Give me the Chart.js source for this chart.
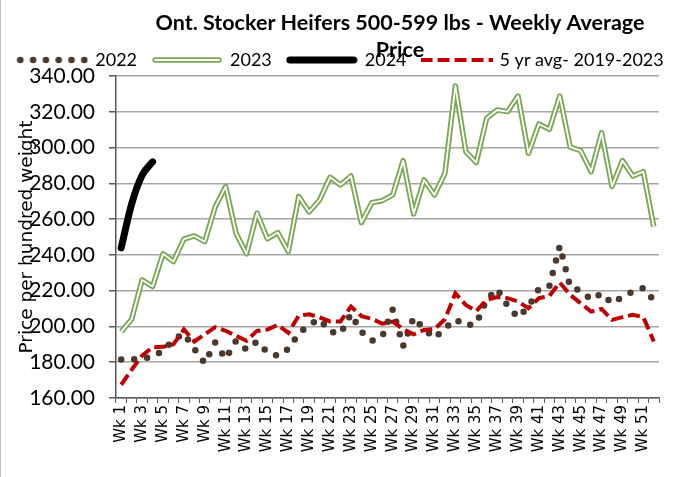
<!DOCTYPE html>
<html>
<head>
<meta charset="utf-8">
<script src="https://cdn.jsdelivr.net/npm/chart.js@4.4.1/dist/chart.umd.min.js"></script>
<style>
  html, body { margin: 0; padding: 0; background: #fff; overflow: hidden; }
  #wrap { position: relative; width: 682px; height: 477px; }
  #edge { position: absolute; left: 0; top: 0; height: 477px; border-left: 1px solid #c0c0c0; }
</style>
</head>
<body>
<div id="wrap">
  <canvas id="heiferChart" width="682" height="477"></canvas>
  <div id="edge"></div>
</div>
<script>
// categories
const weeks = Array.from({ length: 52 }, (_, i) => 'Wk ' + (i + 1));
const yTicks = [160, 180, 200, 220, 240, 260, 280, 300, 320, 340];

// weekly averages, $/cwt
const avg2022 = [181.5, 181.5, 182, 183, 186.5, 192.5, 196, 187.5, 179.5, 191,
                 182, 192, 187, 191.5, 185.5, 183.5, 187.5, 196, 201, 204,
                 197, 196, 207, 197, 192, 194.5, 209.5, 189, 205, 198.5,
                 193.5, 199, 204, 200.5, 201.5, 215, 221, 211.5, 205, 211,
                 221, 222.5, 245, 222, 220, 215, 218.5, 213, 216.5, 219.5,
                 221.5, 214.5];
const avg2023 = [197, 204, 226, 222.3, 240.6, 236.3, 248.8, 250.6, 247.4, 266.8,
                 278.2, 252, 240.6, 263.3, 249, 252.5, 241.8, 272.6, 264, 270.7,
                 283.4, 279.1, 284.1, 258, 269.2, 270.3, 273.5, 292.7, 262.9, 281.9,
                 273.5, 285.6, 334.4, 297.7, 291.6, 316.4, 321, 320.1, 328.8, 296.8,
                 313.2, 310.2, 328.8, 300.2, 298.3, 286.5, 308.3, 278.2, 292.7, 284.1,
                 286.5, 255.8];
const avg2024 = [244, 268.5, 284.5, 292];
const avg5yr = [167.4, 175.8, 183.7, 188.4, 188.6, 190, 198.3, 191.6, 195.6, 199.6,
                197.6, 194.8, 192, 197.5, 198.3, 200.9, 196.4, 206, 206.8, 205,
                202.8, 202.8, 211.1, 205.8, 204.3, 201.5, 202.7, 198.5, 195.6, 198,
                198.5, 204, 218.6, 212, 208.6, 214.9, 216.4, 215.8, 213.9, 210.2,
                215.8, 217, 224.5, 217.6, 213, 208.3, 209.8, 203.7, 205.2, 206.5,
                205.2, 191.6];

const seriesNames = ['2022', '2023', '2024', '5 yr avg- 2019-2023'];
const titleLines = ['Ont. Stocker Heifers 500-599 lbs - Weekly Average', 'Price'];

const brown = '#4b392e';
const green = '#7aa854';
const red = '#c00000';

// little pictures for the legend keys
function swatch(draw) {
    const c = document.createElement('canvas');
    c.width = 72;
    c.height = 14;
    draw(c.getContext('2d'));
    return c;
}
function stroke(g, x1, x2) {
    g.beginPath();
    g.moveTo(x1, 7);
    g.lineTo(x2, 7);
    g.stroke();
}
const swatches = [
    swatch(g => {
        g.fillStyle = brown;
        for (let i = 0; i < 6; i++) {
            g.beginPath();
            g.arc(4 + i * 12.8, 7, 3.3, 0, Math.PI * 2);
            g.fill();
        }
    }),
    swatch(g => {
        g.lineCap = 'round';
        g.strokeStyle = green; g.lineWidth = 5.5; stroke(g, 4, 68);
        g.strokeStyle = '#fff'; g.lineWidth = 2; stroke(g, 4, 68);
    }),
    swatch(g => {
        g.lineCap = 'round';
        g.strokeStyle = '#000'; g.lineWidth = 7; stroke(g, 4, 68);
    }),
    swatch(g => {
        g.strokeStyle = red; g.lineWidth = 4; g.setLineDash([12, 5]); stroke(g, 0, 72);
    })
];

// title is allowed to run into the legend, like the original
const titlePlugin = {
    id: 'twoLineTitle',
    afterLayout(chart) {
        // legend row sits a little lower than Chart.js would put it
        chart.legend.top += 3;
        chart.legend.bottom += 3;
    },
    afterDraw(chart) {
        const ctx = chart.ctx;
        ctx.save();
        ctx.font = 'bold 21.5px Lato';
        ctx.fillStyle = '#000';
        ctx.textAlign = 'center';
        ctx.textBaseline = 'middle';
        ctx.fillText(titleLines[0], 400, 23);
        ctx.fillText(titleLines[1], 400, 50);
        ctx.restore();
    }
};

Chart.defaults.font.family = 'Lato';
Chart.defaults.color = '#000';

new Chart(document.getElementById('heiferChart'), {
    type: 'line',
    data: {
        labels: weeks,
        datasets: [
            {
                label: seriesNames[0],
                data: avg2022,
                borderColor: brown,
                borderWidth: 6.5,
                borderDash: [0, 13],
                borderCapStyle: 'round',
                pointRadius: 0,
                order: 2
            },
            {
                label: seriesNames[1],
                data: avg2023,
                borderColor: green,
                borderWidth: 5.5,
                borderJoinStyle: 'round',
                pointRadius: 0,
                order: 4
            },
            {
                label: seriesNames[2],
                data: avg2024,
                borderColor: '#000',
                borderWidth: 7,
                borderCapStyle: 'round',
                cubicInterpolationMode: 'monotone',
                pointRadius: 0,
                order: 0
            },
            {
                label: seriesNames[3],
                data: avg5yr,
                borderColor: red,
                borderWidth: 4,
                borderDash: [12, 5],
                pointRadius: 0,
                order: 1
            },
            {
                // white core of the 2023 double line
                label: '2023 inner',
                data: avg2023,
                borderColor: '#fff',
                borderWidth: 1.8,
                borderJoinStyle: 'round',
                pointRadius: 0,
                order: 3
            }
        ]
    },
    options: {
        responsive: false,
        animation: false,
        events: [],
        layout: { padding: { left: 0, right: 0, top: 32, bottom: 5 } },
        plugins: {
            tooltip: { enabled: false },
            legend: {
                position: 'top',
                labels: {
                    usePointStyle: true,
                    pointStyleWidth: 68,
                    padding: 16,
                    font: { size: 18 },
                    generateLabels: () => seriesNames.map((name, i) => ({
                        text: name,
                        pointStyle: swatches[i],
                        fillStyle: 'rgba(0,0,0,0)',
                        strokeStyle: 'rgba(0,0,0,0)',
                        lineWidth: 0,
                        hidden: false,
                        fontColor: '#000',
                        datasetIndex: i
                    }))
                }
            }
        },
        scales: {
            x: {
                offset: true,
                grid: { offset: true, drawOnChartArea: false, tickLength: 5, tickColor: '#595959' },
                border: { color: '#595959', width: 1.5 },
                ticks: {
                    autoSkip: false,
                    minRotation: 90,
                    maxRotation: 90,
                    padding: 2,
                    font: { family: 'DejaVu Sans', size: 15 },
                    callback: function (v, i) { return i % 2 === 0 ? this.getLabelForValue(v) : ''; }
                },
                afterFit: s => { s.height = 74; }
            },
            y: {
                min: yTicks[0],
                max: yTicks[yTicks.length - 1],
                ticks: {
                    stepSize: yTicks[1] - yTicks[0],
                    padding: 14,
                    font: { size: 21 },
                    callback: v => v.toFixed(2)
                },
                grid: { color: '#a6a6a6', lineWidth: 1.5, tickLength: 7, tickColor: '#595959' },
                border: { color: '#595959', width: 1.5 },
                title: {
                    display: true,
                    text: 'Price per hundred weight',
                    font: { family: 'DejaVu Sans', size: 18.5 },
                    padding: { top: 16, bottom: 0 }
                },
                afterFit: s => { s.width = 116; }
            },
            // empty right-hand strip, keeps the plot clear of the right edge
            yRight: {
                type: 'linear',
                position: 'right',
                grid: { display: false },
                border: { display: false },
                ticks: { display: false },
                afterFit: s => { s.width = 23; }
            }
        }
    },
    plugins: [titlePlugin]
});
</script>
</body>
</html>
